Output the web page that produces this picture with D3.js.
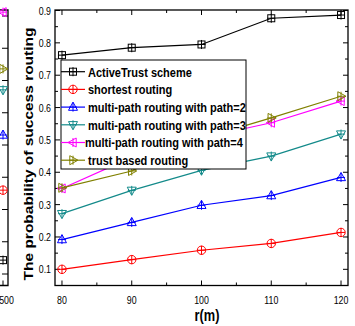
<!DOCTYPE html>
<html>
<head>
  <meta charset="utf-8">
  <title>success routing vs r</title>
  <style>
    body { margin: 0; background: #fff; }
    text { font-family: "Liberation Sans", Arial, sans-serif; }
  </style>
</head>
<body>
<script src="https://cdnjs.cloudflare.com/ajax/libs/d3/7.8.5/d3.min.js"></script>
<div id="vis"></div>
<script>

var radius = [80, 90, 100, 110, 120];
var activeTrust = [0.762, 0.785, 0.795, 0.876, 0.886];
var shortest    = [0.100, 0.130, 0.159, 0.180, 0.214];
var multi2      = [0.192, 0.245, 0.298, 0.328, 0.384];
var multi3      = [0.272, 0.344, 0.406, 0.450, 0.518];
var multi4      = [0.350, 0.446, 0.506, 0.553, 0.620];
var trustBased  = [0.352, 0.404, 0.504, 0.568, 0.635];

var names = ["ActiveTrust scheme", "shortest routing", "multi-path routing with path=2",
  "multi-path routing with path=3", "multi-path routing with path=4", "trust based routing"];
var colors = ["#000000", "#ff0000", "#0000ff", "#138a8a", "#ff00ff", "#808000"];
var shapes = ["square", "circle", "up", "down", "left", "right"];
var series = [activeTrust, shortest, multi2, multi3, multi4, trustBased];

var yTicks = [0.1, 0.2, 0.3, 0.4, 0.5, 0.6, 0.7, 0.8, 0.9];
var xTicks = [80, 90, 100, 110, 120];

// last points of the neighbouring (cut off) panel
var leftVals = [0.143, 0.36, 0.531, 0.671, 0.912, 0.736];

var W = 355, H = 326;
var L = 55, R = 348, T = 10, B = 285.5;
var sx = 0.8;

var svg = d3.select("#vis").append("svg").attr("width", W).attr("height", H);

var x = d3.scaleLinear().domain([79, 121]).range([L, R]);
var y = d3.scaleLinear().domain([0.05, 0.9]).range([B, T + 0.5]);

function marker(g, shape, c) {
  var s = 4.2;
  if (shape == "square") {
    g.append("rect").attr("x", -3.5).attr("y", -3.5).attr("width", 7).attr("height", 7)
      .attr("fill", "none").attr("stroke", c);
  } else if (shape == "circle") {
    g.append("circle").attr("r", s).attr("fill", "none").attr("stroke", c);
  } else {
    var pts = {up: [[0,-5],[4.5,3.2],[-4.5,3.2]], down: [[0,5],[4.5,-3.2],[-4.5,-3.2]],
      left: [[-5,0],[3.2,-4.5],[3.2,4.5]], right: [[5,0],[-3.2,-4.5],[-3.2,4.5]]}[shape];
    g.append("path").attr("d", "M" + pts.join("L") + "Z").attr("fill", "none").attr("stroke", c);
  }
  g.append("path").attr("d", "M-4,0H4M0,-4.5V4.5").attr("stroke", c).attr("fill", "none");
}

function label(x0, y0, txt, size, anchor, bold, k) {
  return svg.append("text")
    .attr("transform", "translate(" + x0 + "," + y0 + ") scale(" + (k || sx) + ",1)")
    .attr("text-anchor", anchor)
    .style("font-size", size + "px")
    .style("font-weight", bold ? "bold" : "normal")
    .text(txt);
}

// neighbouring panel fragment
var yl = d3.scaleLinear().domain([0.1, 0.9]).range([274, 16]);
svg.append("path").attr("d", "M-2," + B + "H8V" + T + "H-2").attr("fill", "none")
  .attr("stroke", "#000").attr("stroke-width", 1.3);
[0.1, 0.2, 0.3, 0.4, 0.5, 0.6, 0.7, 0.8, 0.9].forEach(function(v) {
  svg.append("line").attr("x1", 8).attr("x2", 2).attr("y1", yl(v)).attr("y2", yl(v)).attr("stroke", "#000");
});
svg.append("line").attr("x1", 3).attr("x2", 3).attr("y1", B).attr("y2", B - 5).attr("stroke", "#000");
label(6.5, 304, "500", 11, "middle", false);
leftVals.forEach(function(v, i) {
  marker(svg.append("g").attr("transform", "translate(3," + yl(v) + ")"), shapes[i], colors[i]);
});

// ticks (inward, mirrored)
yTicks.forEach(function(v) {
  svg.append("line").attr("x1", L).attr("x2", L + 5).attr("y1", y(v)).attr("y2", y(v)).attr("stroke", "#000");
  svg.append("line").attr("x1", R).attr("x2", R - 5).attr("y1", y(v)).attr("y2", y(v)).attr("stroke", "#000");
  label(51, y(v) + 4, v.toFixed(1), 11, "end", false);
});
[0.15, 0.25, 0.35, 0.45, 0.55, 0.65, 0.75, 0.85].forEach(function(v) {
  svg.append("line").attr("x1", L).attr("x2", L + 3).attr("y1", y(v)).attr("y2", y(v)).attr("stroke", "#000");
  svg.append("line").attr("x1", R).attr("x2", R - 3).attr("y1", y(v)).attr("y2", y(v)).attr("stroke", "#000");
});
xTicks.forEach(function(v) {
  svg.append("line").attr("x1", x(v)).attr("x2", x(v)).attr("y1", B).attr("y2", B - 5).attr("stroke", "#000");
  svg.append("line").attr("x1", x(v)).attr("x2", x(v)).attr("y1", T).attr("y2", T + 5).attr("stroke", "#000");
  label(x(v), 304, v, 11, "middle", false);
});
[85, 95, 105, 115].forEach(function(v) {
  svg.append("line").attr("x1", x(v)).attr("x2", x(v)).attr("y1", B).attr("y2", B - 3).attr("stroke", "#000");
  svg.append("line").attr("x1", x(v)).attr("x2", x(v)).attr("y1", T).attr("y2", T + 3).attr("stroke", "#000");
});

// series
var line = d3.line().x(function(d, i) { return x(radius[i]); }).y(function(d) { return y(d); });
series.forEach(function(s, k) {
  svg.append("path").attr("d", line(s)).attr("fill", "none").attr("stroke", colors[k]).attr("stroke-width", 1.2);
  s.forEach(function(v, i) {
    marker(svg.append("g").attr("transform", "translate(" + x(radius[i]) + "," + y(v) + ")"), shapes[k], colors[k]);
  });
});

// frame
svg.append("rect").attr("x", L).attr("y", T).attr("width", R - L).attr("height", B - T)
  .attr("fill", "none").attr("stroke", "#000").attr("stroke-width", 1.3);

// legend
var lgX = 61, lgY = 60, lgW = 185, lgH = 109, step = 17.7;
svg.append("rect").attr("x", lgX).attr("y", lgY).attr("width", lgW).attr("height", lgH)
  .attr("fill", "#fff").attr("stroke", "#000").attr("stroke-width", 1);
names.forEach(function(n, k) {
  var cy = lgY + 11.7 + k * step;
  svg.append("line").attr("x1", lgX).attr("x2", lgX + 24).attr("y1", cy).attr("y2", cy)
    .attr("stroke", colors[k]).attr("stroke-width", 1.2);
  marker(svg.append("g").attr("transform", "translate(" + (lgX + 12) + "," + cy + ")"), shapes[k], colors[k]);
  label(k == 4 ? lgX + 24 : lgX + 27, cy + 4.8, n, 13.5, "start", true, 0.815);
});

// axis titles
svg.append("text")
  .attr("transform", "translate(33,154) scale(" + sx + ",1) rotate(-90)")
  .attr("text-anchor", "middle").style("font-size", "15.5px").style("font-weight", "bold")
  .text("The probability of success routing");
label(207, 321, "r(m)", 16, "middle", true);

</script>
</body>
</html>
